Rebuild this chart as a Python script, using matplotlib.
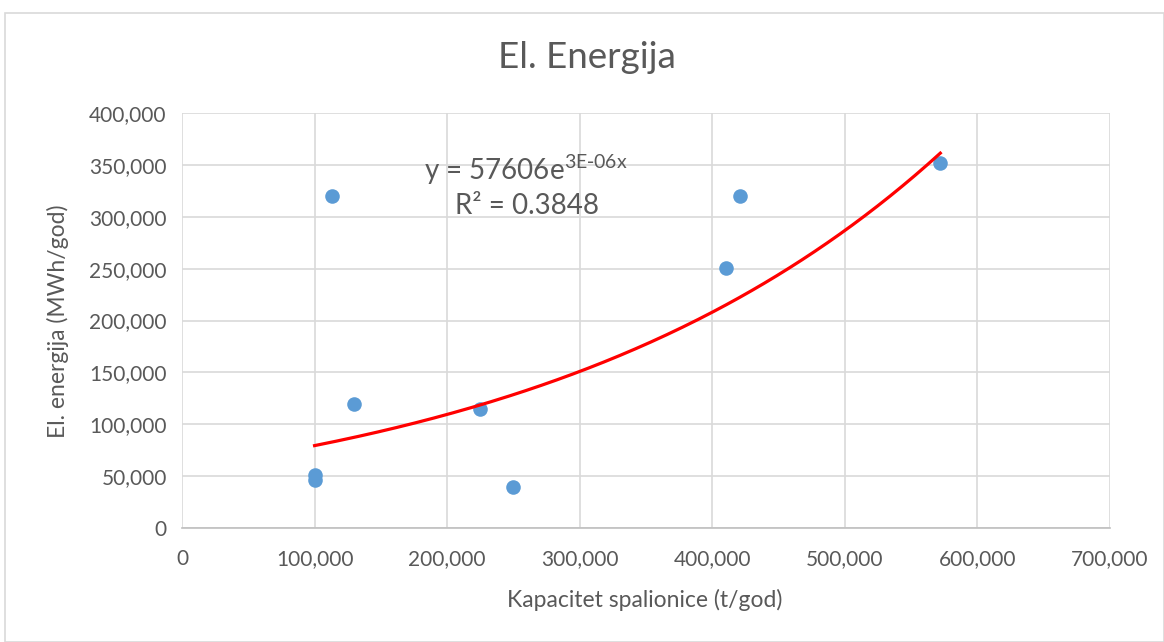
import numpy as np
import matplotlib.pyplot as plt
from matplotlib.patches import Rectangle
from matplotlib.ticker import FuncFormatter

plt.rcParams['font.family'] = ['Lato', 'DejaVu Sans']

# Data: kapacitet spalionice (t/god) vs el. energija (MWh/god)
kapacitet = [100000, 100000, 113000, 130000, 225000, 250000, 410000, 421000, 572000]
energija = [51000, 46500, 320000, 120000, 114500, 39500, 250500, 320000, 352000]

# Eksponencijalni trend (Excel): y = a * e^(b x)
trend_a = 57606
trend_b = 3.21e-06

W, H = 1164, 642
fig = plt.figure(figsize=(W / 100, H / 100), dpi=100)
fig.patches.append(Rectangle((5 / W, 0), 1 - 5 / W, 1 - 13 / H,
                             transform=fig.transFigure, fill=False,
                             edgecolor='#d9d9d9', linewidth=1.2))
ax = fig.add_axes([182 / W, 1 - 528 / H, 928 / W, 415 / H])

ax.scatter(kapacitet, energija, s=110, color='#5B9BD5', zorder=3, linewidths=0)

xt = np.linspace(min(kapacitet), max(kapacitet), 200)
ax.plot(xt, trend_a * np.exp(trend_b * xt), color='#FF0000', linewidth=2.3, zorder=4)

ax.set_xlim(0, 700000)
ax.set_ylim(0, 400000)
ax.set_xticks(range(0, 700001, 100000))
ax.set_yticks(range(0, 400001, 50000))
fmt = FuncFormatter(lambda v, p: f'{int(v):,}')
ax.xaxis.set_major_formatter(fmt)
ax.yaxis.set_major_formatter(fmt)
ax.grid(True, color='#d9d9d9', linewidth=1.2)
ax.set_axisbelow(True)
for s in ['top', 'right', 'left']:
    ax.spines[s].set_visible(False)
ax.spines['bottom'].set_color('#bfbfbf')
ax.spines['bottom'].set_linewidth(1.2)
ax.tick_params(axis='x', length=0, labelsize=15, colors='#595959', pad=15)
ax.tick_params(axis='y', length=0, labelsize=15, colors='#595959', pad=11)

txt = '#595959'
fig.text(587 / W, 1 - 58 / H, 'El. Energija', ha='center', va='center', fontsize=26.5, color=txt)
fig.text(645 / W, 1 - 600 / H, 'Kapacitet spalionice (t/god)', ha='center', va='center',
         fontsize=16.5, color=txt)
fig.text(58 / W, 1 - 321 / H, 'El. energija (MWh/god)', ha='center', va='center',
         rotation=90, fontsize=16.5, color=txt)

fig.text(526 / W, 1 - 170 / H, r'y = 57606e$^{\mathregular{3E\text{-}06x}}$',
         ha='center', va='center', fontsize=20, color=txt)
fig.text(527 / W, 1 - 206 / H, 'R² = 0.3848', ha='center', va='center', fontsize=20, color=txt)

fig.savefig('out.png', dpi=100)
